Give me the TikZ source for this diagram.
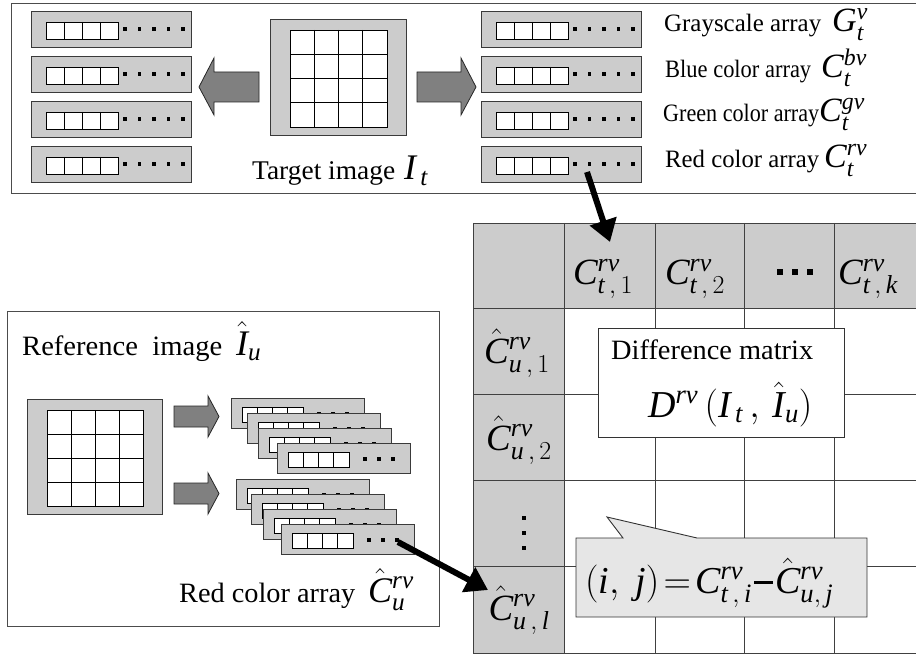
\documentclass[tikz,border=0pt]{standalone}
\usepackage{fix-cm}
\usepackage{graphicx}
\usepackage{fontspec}
\setmainfont{Liberation Serif}
\usetikzlibrary{arrows.meta}

\definecolor{boxgray}{HTML}{CCCCCC}
\definecolor{arrowgray}{HTML}{808080}
\definecolor{callgray}{HTML}{E6E6E6}
\definecolor{edgegray}{HTML}{3A3A3A}

\newcommand{\vi}[1]{\mathit{#1}}
\newcommand{\fs}[1]{\fontsize{#1}{#1}\selectfont}
\newcommand{\heavyminus}{\mathbin{\rule[0.24em]{0.5em}{0.075em}}}
% text set at a given size and fitted to a given width
\newcommand{\fitw}[3]{\resizebox{#2pt}{\height}{\fs{#1}#3}}

\tikzset{
  arraybox/.style={draw=edgegray, fill=boxgray, line width=0.9pt},
  cellrow/.style={draw=black, fill=white, line width=0.8pt},
  cellline/.style={draw=black, line width=0.8pt},
  blockarrow/.style={draw=black!85, fill=arrowgray, line width=0.8pt, line join=miter},
  framebox/.style={draw=black!70, line width=0.9pt},
  gridline/.style={draw=black!75, line width=0.8pt},
  bigarrow/.style={line width=6pt, -{Triangle[length=22pt,width=27pt]}},
  txt/.style={inner sep=0pt, anchor=base west},
  mth/.style={inner sep=0pt},
}

% one array of pixels: cells followed by a row of dots
\newcommand{\toparray}[3]{%
  \begin{scope}[shift={(#2,#3)}]
    \path[arraybox] (0,0) rectangle (160,36);
    \path[cellrow] (15,11) rectangle (87,28);
    \foreach \i in {33,51,69} \draw[cellline] (\i,11) -- (\i,28);
    \foreach \i in {94,108.5,123,137.5,152} \fill (\i-1.8,16.2) rectangle (\i+1.8,19.8);
    \coordinate (#1) at (106,26);
  \end{scope}}

% smaller arrays used in the stacked groups
\newcommand{\stackarray}[3]{%
  \begin{scope}[shift={(#2,#3)}]
    \path[arraybox] (0,0) rectangle (133,30);
    \path[cellrow] (11,9) rectangle (72,24);
    \foreach \i in {26.25,41.5,56.75} \draw[cellline] (\i,9) -- (\i,24);
    \foreach \i in {88,102,116} \fill (\i-2,14) rectangle (\i+2,18);
    \coordinate (#1) at (117,18);
  \end{scope}}

% an image drawn as a grey frame with a 4x4 pixel grid
\newcommand{\pixelimage}[7]{%
  \path[arraybox] (#1,#2) rectangle (#3,#4);
  \path[cellrow] (#5,#6) rectangle ({#5+4*#7},{#6+4*#7});
  \foreach \k in {1,2,3} {
    \draw[cellline] ({#5+\k*#7},#6) -- ({#5+\k*#7},{#6+4*#7});
    \draw[cellline] (#5,{#6+\k*#7}) -- ({#5+4*#7},{#6+\k*#7});
  }}

\begin{document}
\begin{tikzpicture}[x=1pt,y=-1pt]
\useasboundingbox (0,0) rectangle (916,655);

% ---------- target image and its four colour arrays ----------
\path[framebox] (11,3) rectangle (922,193);
\toparray{la1}{31}{11}
\toparray{la2}{31}{56}
\toparray{la3}{31}{101}
\toparray{la4}{31}{146}
\toparray{gray}{481}{11}
\toparray{blue}{481}{56}
\toparray{green}{481}{101}
\toparray{red}{481}{146}

\pixelimage{270}{19}{406}{135}{290}{30}{24.25}

\path[blockarrow] (199,87) -- (214,58) -- (214,72) -- (259,72) -- (259,102)
  -- (214,102) -- (214,115) -- cycle;
\path[blockarrow] (476,87) -- (461,58) -- (461,72) -- (417,72) -- (417,102)
  -- (461,102) -- (461,115) -- cycle;

\node[txt] (tlabel) at (252,180) {\fitw{27}{143}{Target image}};
\node[txt] (tmath) at (404,180) {\fs{36}$\vi{I}_{\,\vi{t}}$};
\node[txt] (glabel) at (664,32) {\fitw{25}{157}{Grayscale array}};
\node[txt] (gmath) at (832,32) {\fs{34}$\vi{G}^{\vi{v}}_{\vi{t}}$};
\node[txt] (blabel) at (665,78) {\fitw{25}{146}{Blue color array}};
\node[txt] (bmath) at (821,78) {\fs{34}$\vi{C}^{\vi{bv}}_{\vi{t}}$};
\node[txt] (gnlabel) at (663,122) {\fitw{25}{156}{Green color array}};
\node[txt] (gnmath) at (819,122) {\fs{34}$\vi{C}^{\vi{gv}}_{\vi{t}}$};
\node[txt] (rlabel) at (665,168) {\fitw{25}{154}{Red color array}};
\node[txt] (rmath) at (824,168) {\fs{34}$\vi{C}^{\vi{rv}}_{\vi{t}}$};

% ---------- reference image and its arrays ----------
\path[framebox] (7,311) rectangle (439,626);
\node[txt] (reflabel) at (22,355) {\fitw{28}{200}{Reference\ \ image}};
\node[txt] (refmath) at (236,355) {\fs{36}$\hat{\vi{I}}_{\vi{u}}$};
\pixelimage{27}{399}{162}{514}{47}{410}{24}

\path[blockarrow] (219,416.5) -- (208,396) -- (208,406) -- (174,406) -- (174,427)
  -- (208,427) -- (208,437) -- cycle;
\path[blockarrow] (219,493.5) -- (208,473) -- (208,483) -- (174,483) -- (174,504)
  -- (208,504) -- (208,514) -- cycle;

\stackarray{s1}{231}{398}
\stackarray{s2}{247}{413}
\stackarray{s3}{258}{428}
\stackarray{s4}{277}{443}
\stackarray{s5}{236}{479}
\stackarray{s6}{251}{494}
\stackarray{s7}{263}{509}
\stackarray{s8}{281}{524}

\node[txt] (redref) at (179,602) {\fitw{28}{176}{Red color array}};
\node[txt] (redmath) at (368,602) {\fs{36}$\hat{\vi{C}}^{\vi{rv}}_{\vi{u}}$};

% ---------- difference matrix ----------
\fill[boxgray] (473,223) rectangle (924,308);
\fill[boxgray] (473,308) rectangle (564,653);
\foreach \x in {473,564,655,744,834} \draw[gridline] (\x,223) -- (\x,653);
\foreach \y in {223,308,394,480,566,653} \draw[gridline] (473,\y) -- (924,\y);

\node[mth] (h1) at (603,279) {\fs{37}$\vi{C}^{\vi{rv}}_{\vi{t}\,,\,1}$};
\node[mth] (h2) at (695,279) {\fs{37}$\vi{C}^{\vi{rv}}_{\vi{t}\,,\,2}$};
\node[mth] (hdots) at (795,272) {};
\foreach \i in {780,795,810} \fill (\i-3,269) rectangle (\i+3,275);
\node[mth] (hk) at (868,279) {\fs{37}$\vi{C}^{\vi{rv}}_{\vi{t}\,,\,\vi{k}}$};

\node[mth] (r1) at (517,353) {\fs{37}$\hat{\vi{C}}^{\vi{rv}}_{\vi{u}\,,\,1}$};
\node[mth] (r2) at (519,440) {\fs{37}$\hat{\vi{C}}^{\vi{rv}}_{\vi{u}\,,\,2}$};
\node[mth] (rdots) at (524,533) {};
\foreach \j in {518,533,548} \fill (522,\j-2) rectangle (526,\j+2);
\node[mth] (rl) at (519,610) {\fs{37}$\hat{\vi{C}}^{\vi{rv}}_{\vi{u}\,,\,\vi{l}}$};

\path[draw=black!80, fill=white, line width=0.9pt] (598,328) rectangle (844,437);
\node[txt] (dtitle) at (611,359) {\fitw{28}{202}{Difference matrix}};
\node[txt] (dformula) at (648,417) {\fs{38}$\vi{D}^{\vi{rv}}\,(\vi{I}_{\,\vi{t}}\,,\,\hat{\vi{I}}_{\vi{u}})$};

\path[draw=black!80, fill=callgray, line width=0.9pt, line join=miter]
  (576,538) -- (623,538) -- (607,517) -- (697,538) -- (867,538)
  -- (867,617) -- (576,617) -- cycle;
\node[txt] (element) at (585,593)
  {\fs{38}$(\vi{i},\ \vi{j})\!=\!\vi{C}^{\vi{rv}}_{\vi{t}\,,\,\vi{i}}\!\heavyminus\!\hat{\vi{C}}^{\vi{rv}}_{\vi{u},\,\vi{j}}$};

% ---------- connectors into the matrix ----------
\coordinate (htip) at (610,242);
\coordinate (rtip) at (488,590);
\draw[bigarrow] (red) -- (htip);
\draw[bigarrow] (s8) -- (rtip);
\end{tikzpicture}
\end{document}
